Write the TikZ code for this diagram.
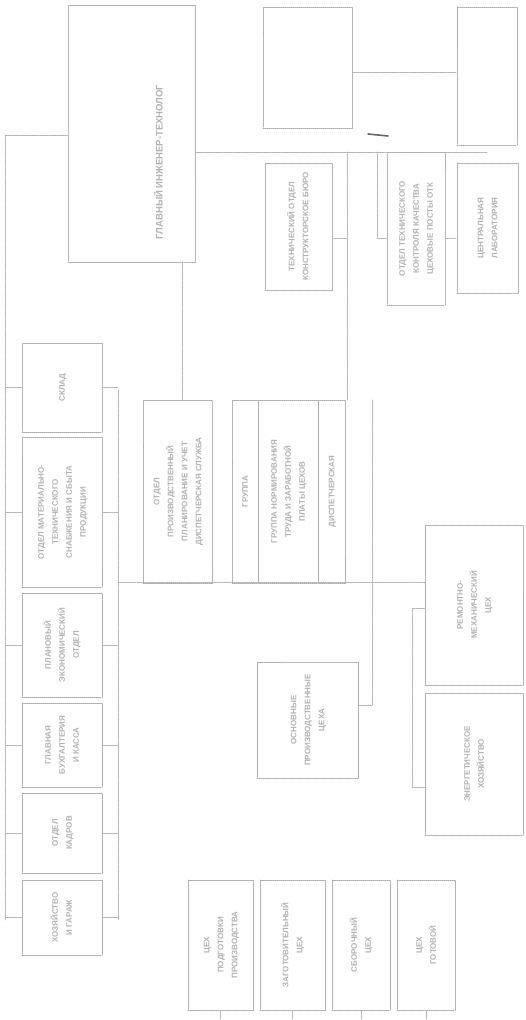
\documentclass[tikz,border=0pt]{standalone}
\usepackage{fontspec}
\setmainfont{Liberation Sans}
\usepackage{graphicx}
\newcommand{\vt}[1]{\rotatebox{90}{\begin{tabular}{@{}c@{}}#1\end{tabular}}}

\tikzset{
  unit/.style={draw=gray!65,densely dotted,line width=1pt,inner sep=0pt,
    font=\fontsize{8}{14}\selectfont\bfseries,text=gray!60,align=center},
  link/.style={draw=gray!60,densely dotted,line width=0.9pt},
}

\begin{document}
\begin{tikzpicture}[x=1pt,y=-1pt,line cap=round]
\useasboundingbox (0,0) rectangle (525,1020);
\fill[white] (0,0) rectangle (525,1020);

% top part
\node[unit,minimum width=127pt,minimum height=257pt] (head) at (131.5,133.5) {};
\node[font=\fontsize{9.5}{12}\selectfont\bfseries,text=gray!60] at (160,162) {\vt{ГЛАВНЫЙ ИНЖЕНЕР-ТЕХНОЛОГ}};
\node[unit,minimum width=89pt,minimum height=121pt] (topa) at (307.5,67.5) {};
\node[unit,minimum width=60pt,minimum height=138pt] (topb) at (487,76) {};
\node[unit,minimum width=67pt,minimum height=127pt] (tec) at (298.5,226.5) {\vt{ТЕХНИЧЕСКИЙ ОТДЕЛ\\КОНСТРУКТОРСКОЕ БЮРО}};
\node[unit,minimum width=58pt,minimum height=153pt] (otk) at (416,228.5) {\vt{ОТДЕЛ ТЕХНИЧЕСКОГО\\КОНТРОЛЯ КАЧЕСТВА\\ЦЕХОВЫЕ ПОСТЫ ОТК}};
\node[unit,minimum width=61pt,minimum height=130pt] (lab) at (487.5,228) {\vt{ЦЕНТРАЛЬНАЯ\\ЛАБОРАТОРИЯ}};

% middle part
\node[unit,minimum width=69pt,minimum height=183pt] (prod) at (177.5,491.5) {\vt{ОТДЕЛ\\ПРОИЗВОДСТВЕННЫЙ\\ПЛАНИРОВАНИЕ И УЧЕТ\\ДИСПЕТЧЕРСКАЯ СЛУЖБА}};
\node[unit,minimum width=26pt,minimum height=183pt] (grp) at (245,491.5) {\vt{ГРУППА}};
\node[unit,minimum width=60pt,minimum height=183pt] (tng) at (288,491.5) {\vt{ГРУППА НОРМИРОВАНИЯ\\ТРУДА И ЗАРАБОТНОЙ\\ПЛАТЫ ЦЕХОВ}};
\node[unit,minimum width=27pt,minimum height=183pt] (dsp) at (331.5,491.5) {\vt{ДИСПЕТЧЕРСКАЯ}};
\node[unit,minimum width=101pt,minimum height=116pt] (shop) at (307.5,720) {\vt{ОСНОВНЫЕ\\ПРОИЗВОДСТВЕННЫЕ\\ЦЕХА}};
\node[unit,minimum width=98pt,minimum height=160pt] (rem) at (474,605) {\vt{РЕМОНТНО-\\МЕХАНИЧЕСКИЙ\\ЦЕХ}};
\node[unit,minimum width=98pt,minimum height=142pt] (ener) at (474,764) {\vt{ЭНЕРГЕТИЧЕСКОЕ\\ХОЗЯЙСТВО}};

% left column
\node[unit,minimum width=80pt,minimum height=89pt] (skl) at (62,387.5) {\vt{СКЛАД}};
\node[unit,minimum width=80pt,minimum height=150pt] (snab) at (62,512) {\vt{ОТДЕЛ МАТЕРИАЛЬНО-\\ТЕХНИЧЕСКОГО\\СНАБЖЕНИЯ И СБЫТА\\ПРОДУКЦИИ}};
\node[unit,minimum width=80pt,minimum height=104pt] (pl) at (62,645) {\vt{ПЛАНОВЫЙ\\ЭКОНОМИЧЕСКИЙ\\ОТДЕЛ}};
\node[unit,minimum width=80pt,minimum height=84pt] (buh) at (62,745) {\vt{ГЛАВНАЯ\\БУХГАЛТЕРИЯ\\И КАССА}};
\node[unit,minimum width=80pt,minimum height=80pt] (kad) at (62,833) {\vt{ОТДЕЛ\\КАДРОВ}};
\node[unit,minimum width=80pt,minimum height=75pt] (adm) at (62,917.5) {\vt{ХОЗЯЙСТВО\\И ГАРАЖ}};

% bottom row
\node[unit,minimum width=65pt,minimum height=130pt] (b1) at (220.5,945) {\vt{ЦЕХ\\ПОДГОТОВКИ\\ПРОИЗВОДСТВА}};
\node[unit,minimum width=65pt,minimum height=130pt] (b2) at (292.5,945) {\vt{ЗАГОТОВИТЕЛЬНЫЙ\\ЦЕХ}};
\node[unit,minimum width=58pt,minimum height=130pt] (b3) at (361,945) {\vt{СБОРОЧНЫЙ\\ЦЕХ}};
\node[unit,minimum width=58pt,minimum height=130pt] (b4) at (426,945) {\vt{ЦЕХ\\ГОТОВОЙ}};

% connectors
\coordinate (lbus) at (5,135);
\coordinate (rbus) at (118,390);
\draw[link] (head.west |- 0,135) -- (lbus) -- (5,920);
\foreach \n in {skl,snab,pl,buh,kad,adm}
  \draw[link] (\n.west) -- (\n.west -| lbus);
\draw[link] (rbus) -- (118,920);
\foreach \n in {skl,snab,pl,buh,kad,adm}
  \draw[link] (\n.east) -- (\n.east -| rbus);
\draw[link] (118,582) -- (425,582);
\draw[link] (182,262) -- (prod.north -| 182,0);
\draw[link] (head.east |- 0,152) -- (377,152) -- (487,152);
\draw[link] (topa.east |- 0,72) -- (topb.west |- 0,72);
\draw[link] (347,152) -- (347,400);
\draw[link] (377,152) -- (377,238);
\draw[link] (tec.east |- 0,238) -- (347,238);
\draw[link] (377,238) -- (otk.west |- 0,238);
\draw[link] (otk.east |- 0,238) -- (lab.west |- 0,238);
\draw[link] (372,400) -- (372,705);
\draw[link] (shop.east |- 0,705) -- (372,705);
\draw[link] (rem.west |- 0,608) -- (412,608) -- (412,787) -- (ener.west |- 0,787);
\foreach \n in {b1,b2,b3,b4}
  \draw[link] (\n.south) -- ++(0,9);
\draw[line width=1.6pt,gray!80!black] (368,134) -- (388,136);
\end{tikzpicture}
\end{document}
